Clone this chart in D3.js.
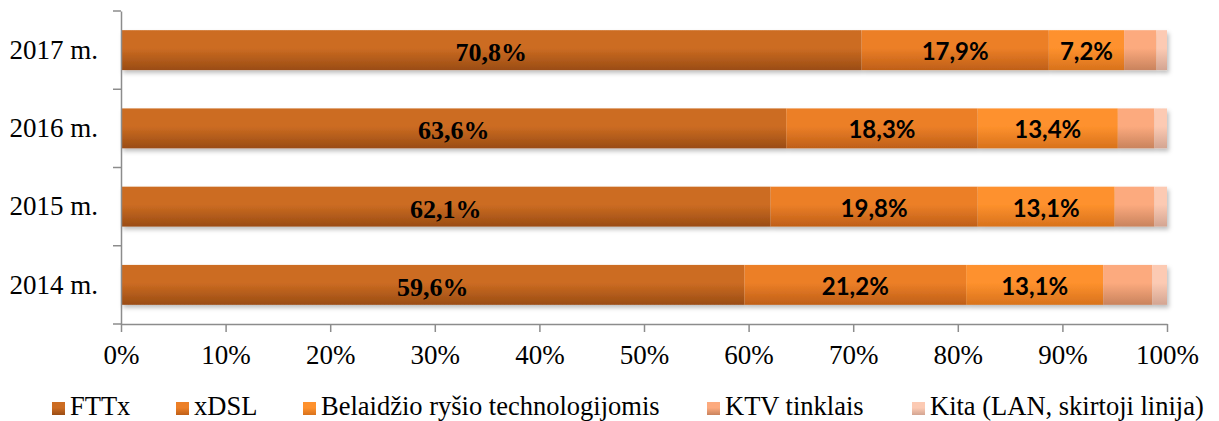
<!DOCTYPE html>
<html lang="lt">
<head>
<meta charset="utf-8">
<title>Interneto prieigos technologijos</title>
<script src="https://cdn.jsdelivr.net/npm/d3@7"></script>
<style>
  body { margin: 0; background: #fff; }
</style>
</head>
<body>
<script>
// metai ir technologijos
const years = ["2017 m.", "2016 m.", "2015 m.", "2014 m."];
const series = ["FTTx", "xDSL", "Belaidžio ryšio technologijomis", "KTV tinklais", "Kita (LAN, skirtoji linija)"];
const fttx = [70.8, 63.6, 62.1, 59.6];
const xdsl = [17.9, 18.3, 19.8, 21.2];
const belaidis = [7.2, 13.4, 13.1, 13.1];
const ktv = [3.1, 3.5, 3.8, 4.7];
const kita = [1.0, 1.2, 1.2, 1.4];
const ticks = [0, 10, 20, 30, 40, 50, 60, 70, 80, 90, 100];

const colorsTop = ["#cc6c22", "#ec7f27", "#fe912d", "#fcaa7e", "#fccab3"];
const colorsBot = ["#9a4c14", "#bf5f18", "#d8721c", "#c9835d", "#d3a592"];

const serif = "'Liberation Serif', 'Times New Roman', serif";
const width = 1219, height = 421;
const marginLeft = 121, marginRight = 52, marginTop = 11, axisY = 324;

const rows = years.map((y, i) => ({
  year: y,
  values: [fttx[i], xdsl[i], belaidis[i], ktv[i], kita[i]]
}));

const svg = d3.select("body").append("svg")
  .attr("width", width)
  .attr("height", height)
  .attr("viewBox", [0, 0, width, height]);

const defs = svg.append("defs");
series.forEach((s, i) => {
  const g = defs.append("linearGradient")
    .attr("id", "grad" + i)
    .attr("x1", 0).attr("y1", 0).attr("x2", 0).attr("y2", 1);
  g.append("stop").attr("offset", "0%").attr("stop-color", colorsTop[i]);
  g.append("stop").attr("offset", "45%").attr("stop-color", colorsTop[i]);
  g.append("stop").attr("offset", "100%").attr("stop-color", colorsBot[i]);
});
const f = defs.append("filter").attr("id", "shadow")
  .attr("x", "-5%").attr("y", "-20%").attr("width", "110%").attr("height", "160%");
f.append("feDropShadow").attr("dx", 2).attr("dy", 3).attr("stdDeviation", 2)
  .attr("flood-color", "#000").attr("flood-opacity", 0.25);

const x = d3.scaleLinear().domain([0, 100]).range([marginLeft, width - marginRight]);
const y = d3.scaleBand().domain(years).range([marginTop, axisY]).paddingInner(0.49).paddingOuter(0.245);

// bars
const barG = svg.append("g");
rows.forEach(r => {
  let acc = 0;
  const segs = r.values.map((v, i) => {
    const s = { i, x0: acc, x1: acc + v, v };
    acc += v;
    return s;
  });
  const g = barG.append("g").attr("filter", "url(#shadow)");
  g.selectAll("rect")
    .data(segs)
    .join("rect")
    .attr("x", d => x(d.x0))
    .attr("y", y(r.year))
    .attr("width", d => x(Math.min(d.x1, 100)) - x(d.x0))
    .attr("height", y.bandwidth())
    .attr("fill", d => `url(#grad${d.i})`);

  barG.selectAll(null)
    .data(segs.filter(d => d.i < 3))
    .join("text")
    .attr("x", d => x((d.x0 + d.x1) / 2))
    .attr("y", y(r.year) + y.bandwidth() / 2)
    .attr("dy", "0.42em")
    .attr("text-anchor", "middle")
    .attr("font-weight", "bold")
    .attr("font-family", d => d.i === 0 ? serif : "Lato, 'Open Sans', sans-serif")
    .attr("font-size", d => d.i === 0 ? 26 : 24)
    .attr("fill", "#000")
    .text(d => d.v.toFixed(1).replace(".", ",") + "%");
});

// x axis
const xAxis = svg.append("g")
  .attr("transform", `translate(0,${axisY})`)
  .call(d3.axisBottom(x).tickValues(ticks).tickFormat(d => d + "%").tickSize(8).tickPadding(13).tickSizeOuter(0));
xAxis.select(".domain").attr("stroke", "#8c8c8c").attr("stroke-width", 1.5);
xAxis.selectAll(".tick line").attr("stroke", "#8c8c8c").attr("stroke-width", 1.5);
xAxis.selectAll(".tick text")
  .attr("font-family", serif)
  .attr("font-size", 27).attr("fill", "#000");

// y axis
const yAxis = svg.append("g")
  .attr("transform", `translate(${marginLeft},0)`)
  .call(d3.axisLeft(y).tickSize(0).tickPadding(23));
yAxis.select(".domain").attr("stroke", "#8c8c8c").attr("stroke-width", 1.5);
yAxis.selectAll(".tick text")
  .attr("font-family", serif)
  .attr("font-size", 27).attr("fill", "#000");
// category separators
const step = y.step();
yAxis.selectAll(".sep")
  .data(d3.range(years.length + 1))
  .join("line")
  .attr("x1", -8).attr("x2", 0)
  .attr("y1", d => marginTop + d * step)
  .attr("y2", d => marginTop + d * step)
  .attr("stroke", "#8c8c8c").attr("stroke-width", 1.5);

// legend
const legendX = [52, 176, 303, 707, 912];
const leg = svg.append("g").attr("transform", "translate(0,408)");
series.forEach((s, i) => {
  leg.append("rect")
    .attr("x", legendX[i]).attr("y", -6).attr("width", 13).attr("height", 13)
    .attr("fill", `url(#grad${i})`);
  leg.append("text")
    .attr("x", legendX[i] + 18).attr("y", 0).attr("dy", "0.27em")
    .attr("font-family", serif)
    .attr("font-size", 26.5).attr("fill", "#000")
    .text(s);
});
</script>
</body>
</html>
